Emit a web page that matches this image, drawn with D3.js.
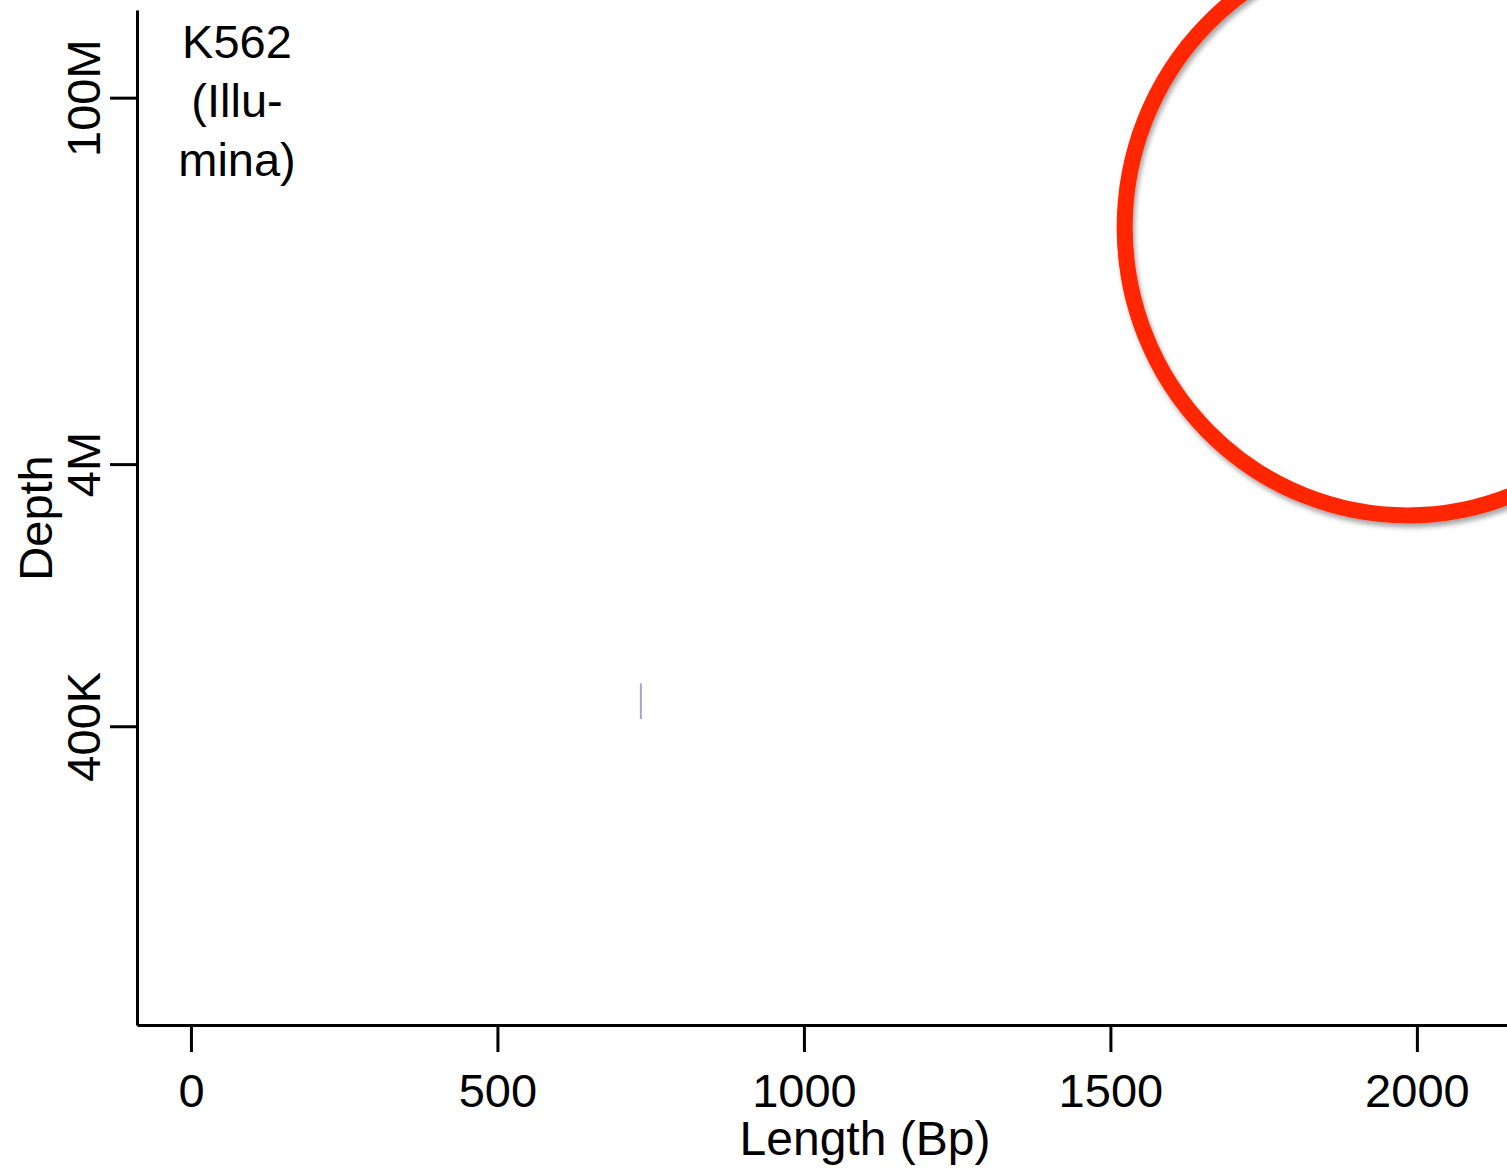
<!DOCTYPE html>
<html>
<head>
<meta charset="utf-8">
<script src="https://cdn.jsdelivr.net/npm/d3@7"></script>
<style>
  html, body { margin: 0; padding: 0; background: #fff; }
  svg { display: block; }
  text { font-family: "Liberation Sans", Arial, Helvetica, sans-serif; fill: #000; }
</style>
</head>
<body>
<svg id="chart" width="1507" height="1168"></svg>
<script>
// ---- data ----
const xTicks = [0, 500, 1000, 1500, 2000];
const yTicks = [4e5, 4e6, 1e8];
const yTickLabels = ["400K", "4M", "100M"];
const panelLabel = ["K562", "(Illu-", "mina)"];
const segLength = [734];
const segDepthLow = [4.26e5];
const segDepthHigh = [5.83e5];
const circleLength = [1985];
const circleDepth = [3.2e7];

// ---- layout ----
const svg = d3.select("#chart");
const xDomain = [-88, 2147];
const yDomain = [2.9e4, 2.16e8];
const x = d3.scaleLinear().domain(xDomain).range([137, 1507]);
const y = d3.scaleLog().domain(yDomain).range([1025, 10]);

const defs = svg.append("defs");
const f = defs.append("filter").attr("id", "shadow")
  .attr("x", "-20%").attr("y", "-20%").attr("width", "140%").attr("height", "140%");
f.append("feDropShadow").attr("dx", 2).attr("dy", 4).attr("stdDeviation", 2.5)
  .attr("flood-color", "#000").attr("flood-opacity", 0.35);

// data segment
svg.append("g").selectAll("line").data(segLength).join("line")
  .attr("x1", (d) => x(d)).attr("x2", (d) => x(d))
  .attr("y1", (d, i) => y(segDepthLow[i]))
  .attr("y2", (d, i) => y(segDepthHigh[i]))
  .attr("stroke", "#aaa3cc").attr("stroke-width", 2);

// x axis
const xAxis = svg.append("g").attr("transform", "translate(0,1025)")
  .call(d3.axisBottom(x).tickValues(xTicks).tickSize(27).tickSizeOuter(0).tickFormat(d3.format("d")));
xAxis.select(".domain").attr("stroke-width", 3);
xAxis.selectAll(".tick line").attr("stroke-width", 3);
xAxis.selectAll(".tick text").attr("y", 82).attr("dy", 0)
  .style("font-size", "47px").style("font-family", "'Liberation Sans', Arial, sans-serif");

// y axis
const yAxis = svg.append("g").attr("transform", "translate(137,0)")
  .call(d3.axisLeft(y).tickValues(yTicks).tickSize(27).tickSizeOuter(0)
    .tickFormat((d, i) => yTickLabels[i]));
yAxis.select(".domain").attr("stroke-width", 3);
yAxis.selectAll(".tick line").attr("stroke-width", 3);
yAxis.selectAll(".tick text")
  .attr("transform", "rotate(-90)")
  .attr("x", 0).attr("y", -37).attr("dy", 0)
  .attr("text-anchor", "middle")
  .style("font-size", "47px").style("font-family", "'Liberation Sans', Arial, sans-serif");

// axis titles
svg.append("text").attr("x", 865).attr("y", 1155).attr("text-anchor", "middle")
  .style("font-size", "48px").text("Length (Bp)");
svg.append("text").attr("transform", "translate(52,518) rotate(-90)")
  .attr("text-anchor", "middle").style("font-size", "47px").text("Depth");

// panel label
svg.append("g").selectAll("text").data(panelLabel).join("text")
  .attr("x", 237).attr("y", (d, i) => 58 + i * 59)
  .attr("text-anchor", "middle").style("font-size", "47px").text((d) => d);

// red highlight ellipse
svg.append("g").selectAll("ellipse").data(circleLength).join("ellipse")
  .attr("cx", (d) => x(d)).attr("cy", (d, i) => y(circleDepth[i]))
  .attr("rx", 283).attr("ry", 288).attr("fill", "none")
  .attr("stroke", "#ff2600").attr("stroke-width", 16)
  .attr("filter", "url(#shadow)");
</script>
</body>
</html>
